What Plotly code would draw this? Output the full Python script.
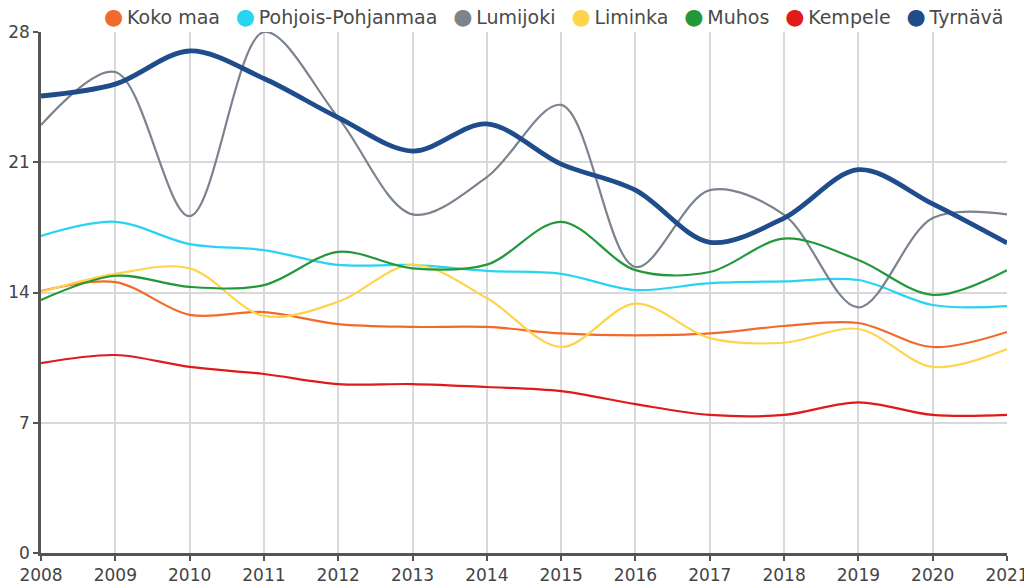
import plotly.graph_objects as go

years = list(range(2008, 2022))
y_ticks = [0, 7, 14, 21, 28]

koko_maa = [14.08, 14.56, 12.8, 12.95, 12.3, 12.15, 12.15, 11.8, 11.7, 11.8, 12.2, 12.36, 11.07, 11.88]
pohjois_pohjanmaa = [17.04, 17.8, 16.6, 16.28, 15.48, 15.48, 15.16, 15.0, 14.13, 14.5, 14.6, 14.67, 13.33, 13.27]
lumijoki = [23.0, 25.85, 18.1, 28.0, 23.4, 18.2, 20.2, 24.08, 15.37, 19.5, 18.17, 13.2, 18.0, 18.2]
liminka = [14.03, 15.0, 15.3, 12.74, 13.5, 15.5, 13.7, 11.07, 13.4, 11.55, 11.3, 12.04, 10.0, 10.96]
muhos = [13.6, 14.9, 14.3, 14.4, 16.18, 15.3, 15.5, 17.8, 15.2, 15.1, 16.9, 15.75, 13.87, 15.2]
kempele = [10.2, 10.64, 10.0, 9.62, 9.08, 9.08, 8.92, 8.7, 8.0, 7.42, 7.42, 8.1, 7.42, 7.42]
tyrnava = [24.56, 25.2, 26.98, 25.5, 23.4, 21.6, 23.06, 20.9, 19.5, 16.7, 18.0, 20.6, 18.76, 16.66]

names = ["Koko maa", "Pohjois-Pohjanmaa", "Lumijoki", "Liminka", "Muhos", "Kempele", "Tyrnävä"]
values = [koko_maa, pohjois_pohjanmaa, lumijoki, liminka, muhos, kempele, tyrnava]
colors = ["#F26A2B", "#29D3F2", "#7B838F", "#FDD44C", "#23983A", "#E01A1A", "#1F4C8A"]
widths = [2.2, 2.2, 2.2, 2.2, 2.2, 2.2, 4.8]

fig = go.Figure()
for name, vals, color, w in zip(names, values, colors, widths):
    fig.add_trace(go.Scatter(
        x=years, y=vals, mode="lines", name=name,
        line=dict(color=color, width=w, shape="spline", smoothing=0.95),
        showlegend=False,
    ))

legend_text = "\u00a0\u00a0\u2009".join(
    f'<span style="color:{c};font-size:22px">●</span>\u2009{n}' for n, c in zip(names, colors)
)
fig.add_annotation(
    xref="paper", yref="paper", x=0.998, y=1.029, xanchor="right", yanchor="middle",
    text=legend_text, showarrow=False,
    font=dict(family="DejaVu Sans", size=19, color="#4a4a4a"),
)

# page body has an 8px margin, so offsets compensate for it
fig.update_layout(
    width=1032, height=583,
    margin=dict(l=33, r=33, t=24, b=38, autoexpand=False),
    paper_bgcolor="white", plot_bgcolor="white",
    font=dict(family="DejaVu Sans", size=17, color="#444444"),
    showlegend=False,
    xaxis=dict(
        range=[2008, 2021], tickmode="array", tickvals=years,
        ticktext=[str(y) for y in years],
        showgrid=True, gridcolor="#d9d9d9", gridwidth=1.5,
        showline=True, linecolor="#555555", linewidth=2.5,
        ticks="outside", ticklen=5, tickcolor="#555555", tickwidth=2,
        zeroline=False, tickfont=dict(size=17, color="#444"),
    ),
    yaxis=dict(
        range=[0, 28], tickmode="array", tickvals=y_ticks,
        showgrid=True, gridcolor="#d9d9d9", gridwidth=1.5,
        showline=True, linecolor="#555555", linewidth=2.5,
        ticks="outside", ticklen=5, tickcolor="#555555", tickwidth=2,
        zeroline=False, tickfont=dict(size=17, color="#444"),
    ),
)

fig.write_html("out.html")
